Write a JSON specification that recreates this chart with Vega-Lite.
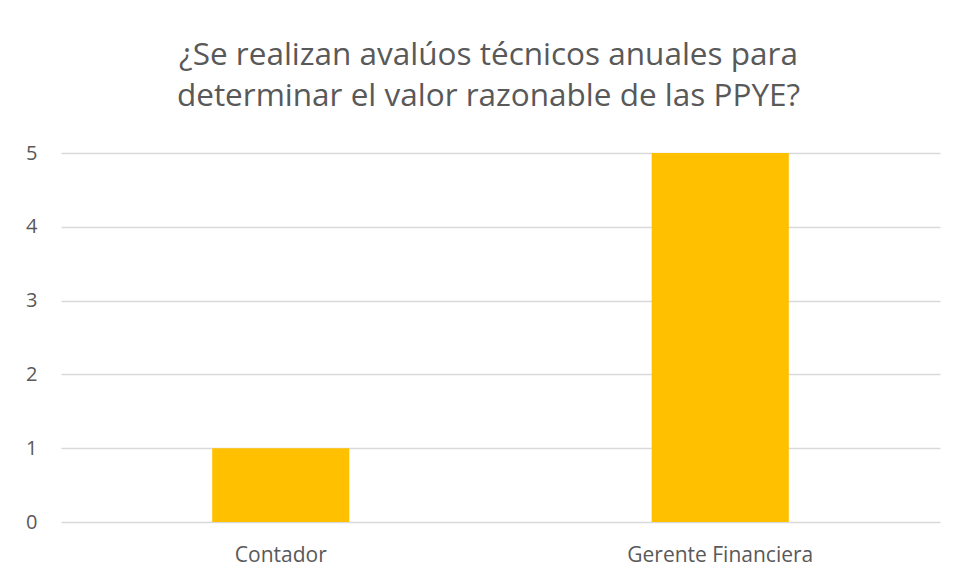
{
  "$schema": "https://vega.github.io/schema/vega-lite/v6.json",
  "autosize": "none",
  "width": 879,
  "height": 369,
  "padding": {"left": 61, "top": 153, "right": 19, "bottom": 60},
  "background": "white",
  "title": {
    "text": ["¿Se realizan avalúos técnicos anuales para", "determinar el valor razonable de las PPYE?"],
    "font": "Open Sans",
    "fontSize": 31.5,
    "fontWeight": "normal",
    "color": "#595959",
    "lineHeight": 41,
    "anchor": "middle",
    "dx": -12,
    "offset": 31
  },
  "data": {
    "values": [
      {"cargo": "Contador", "valor": 1},
      {"cargo": "Gerente Financiera", "valor": 5}
    ]
  },
  "mark": {"type": "bar", "color": "#FFC000"},
  "encoding": {
    "x": {
      "field": "cargo",
      "type": "nominal",
      "sort": null,
      "scale": {"paddingInner": 0.688, "paddingOuter": 0.344},
      "axis": {
        "title": null,
        "labelAngle": 0,
        "labelLimit": 0,
        "domain": false,
        "ticks": false,
        "tickSize": 0,
        "labelPadding": 22,
        "labelFont": "Open Sans",
        "labelFontSize": 21,
        "labelColor": "#595959"
      }
    },
    "y": {
      "field": "valor",
      "type": "quantitative",
      "scale": {"domain": [0, 5], "nice": false},
      "axis": {
        "title": null,
        "values": [0, 1, 2, 3, 4, 5],
        "domain": false,
        "ticks": false,
        "tickSize": 0,
        "labelPadding": 24,
        "labelFont": "Open Sans",
        "labelFontSize": 20,
        "labelColor": "#595959",
        "grid": true,
        "gridColor": "#d9d9d9",
        "gridWidth": 1.3
      }
    }
  },
  "config": {"view": {"stroke": null}}
}
